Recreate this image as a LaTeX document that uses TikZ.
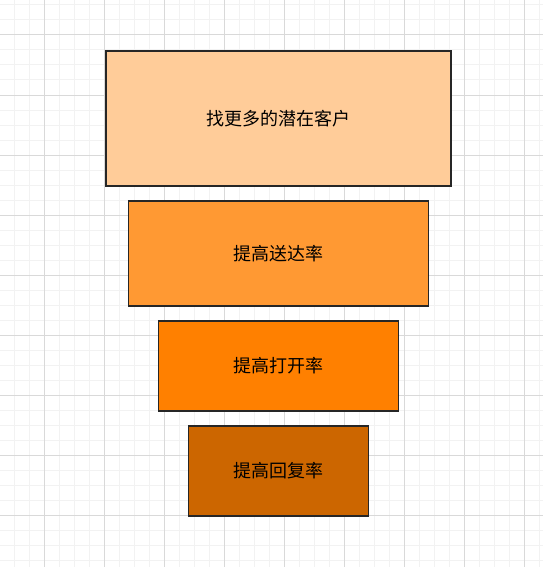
\documentclass[tikz,border=0pt]{standalone}
\usepackage{fontspec}
\setmainfont{Noto Sans CJK SC}
\usepackage{tikz}
\usetikzlibrary{positioning}
\definecolor{gridminor}{HTML}{F2F2F2}
\definecolor{gridmajor}{HTML}{D9D9D9}
\definecolor{peach}{HTML}{FFCC99}
\definecolor{lightorange}{HTML}{FF9933}
\definecolor{midorange}{HTML}{FF8000}
\definecolor{darkorange}{HTML}{CC6600}
\tikzset{
    base/.style={draw=black!85, line width=1.1pt, align=center, outer sep=0pt, font=\fontsize{13.5}{16}\selectfont},
    box/.style={base, rectangle, minimum width=#1},
    stageone/.style={box=258.75pt, fill=peach, minimum height=101.25pt},
    stagetwo/.style={box=225pt, fill=lightorange, minimum height=78.75pt},
    stagethree/.style={box=180pt, fill=midorange, minimum height=67.5pt},
    stagefour/.style={box=135pt, fill=darkorange, minimum height=67.5pt}
}

\begin{document}
\begin{tikzpicture}[x=0.75pt, y=-0.75pt, node distance=11.25pt]
    % Canvas and grid
    \useasboundingbox (0,0) rectangle (543,567);
    \fill[white] (0,0) rectangle (543,567);
    \foreach \gx in {14,29,...,539} \draw[gridminor, line width=0.75pt] (\gx,0) -- (\gx,567);
    \foreach \gy in {5,20,...,565} \draw[gridminor, line width=0.75pt] (0,\gy) -- (543,\gy);
    \foreach \gx in {44,104,...,524} \draw[gridmajor, line width=0.75pt] (\gx,0) -- (\gx,567);
    \foreach \gy in {35,95,...,515} \draw[gridmajor, line width=0.75pt] (0,\gy) -- (543,\gy);

    % Funnel stages (vertical layout)
    \node [stageone] (leads) at (278.5, 118.5) {找更多的潜在客户};
    \node [stagetwo, below=of leads] (delivery) {提高送达率};
    \node [stagethree, below=of delivery] (open) {提高打开率};
    \node [stagefour, below=of open] (reply) {提高回复率};
\end{tikzpicture}
\end{document}
